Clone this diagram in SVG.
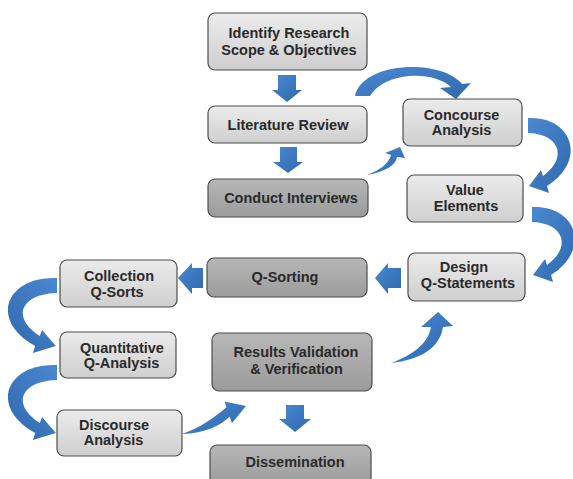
<svg xmlns="http://www.w3.org/2000/svg" width="573" height="479" viewBox="0 0 573 479">
<defs>
<linearGradient id="gLight" x1="0" y1="0" x2="0" y2="1">
<stop offset="0" stop-color="#ebebeb"/>
<stop offset="1" stop-color="#cfcfcf"/>
</linearGradient>
<linearGradient id="gDark" x1="0" y1="0" x2="0" y2="1">
<stop offset="0" stop-color="#b7b7b7"/>
<stop offset="1" stop-color="#9b9b9b"/>
</linearGradient>
<linearGradient id="gBlue" x1="0" y1="0" x2="1" y2="1">
<stop offset="0" stop-color="#4a88d2"/>
<stop offset="1" stop-color="#2f69ad"/>
</linearGradient>
</defs>
<style>
.box{stroke:#4d4d4d;stroke-width:1.2}
.light{fill:url(#gLight)}
.dark{fill:url(#gDark)}
.t{font-family:"Liberation Sans",Arial,sans-serif;font-weight:bold;font-size:14.5px;fill:#2a2a2a;text-anchor:middle}
.arr{fill:url(#gBlue)}
</style>
<rect width="573" height="479" fill="#ffffff"/>
<g id="connectors">
<path id="a-identify-lit" class="arr" d="M278,75 H296 V90 H302 L287,102 L272,90 H278 Z"/>
<path id="a-lit-interviews" class="arr" d="M280,147 H297 V162 H303 L288,173 L273,162 H280 Z"/>
<path id="a-lit-concourse" class="arr" d="M355,96 C362,62 440,58 462,84 L471,83 L456,99 L440,88 L451,87 C432,70 385,72 370,96 Z"/>
<path id="a-interviews-concourse" class="arr" d="M367,175 C385,172 396,165 397,157 L405,158 L400,147 L385,153 L391,155 C389,164 378,171 367,175 Z"/>
<path id="a-concourse-value" class="arr" d="M528,118 C572,116 588,160 547,186 L549,193 L529,186 L541,170 L543,176 C568,158 560,134 528,133 Z"/>
<path id="a-value-design" class="arr" transform="translate(4,89)" d="M528,118 C572,116 588,160 547,186 L549,193 L529,186 L541,170 L543,176 C568,158 560,134 528,133 Z"/>
<path id="a-design-qsorting" class="arr" d="M401,268 V288 H388 V294 L375,278 L388,263 V268 Z"/>
<path id="a-qsorting-collection" class="arr" d="M203,268 V288 H192 V294 L178,278 L192,263 V268 Z"/>
<path id="a-collection-quant" class="arr" transform="translate(57,160) scale(-1.15,1) translate(-528,0)" d="M528,118 C572,116 588,160 547,186 L549,193 L529,186 L541,170 L543,176 C568,158 560,134 528,133 Z"/>
<path id="a-quant-discourse" class="arr" transform="translate(57,247) scale(-1.15,1) translate(-528,0)" d="M528,118 C572,116 588,160 547,186 L549,193 L529,186 L541,170 L543,176 C568,158 560,134 528,133 Z"/>
<path id="a-discourse-results" class="arr" d="M182,434 C205,433 220,426 229.6,416.7 L232,423 L246,406 L224.5,401.5 L226.4,407.3 C214,418 200,428 182,434 Z"/>
<path id="a-results-design" class="arr" d="M391,363 C420,360 440,348 443,327 L453,326 L438,312 L421,327 L431,327 C428,345 410,356 391,363 Z"/>
<path id="a-results-dissemination" class="arr" d="M286,405 H304 V419 H311 L295,432 L279,419 H286 Z"/>
</g>
<g id="n-identify">
<rect class="box light" x="208" y="13" width="159" height="57" rx="7"/>
<text class="t" x="289" y="38">Identify Research</text>
<text class="t" x="289" y="55">Scope &amp; Objectives</text>
</g>
<g id="n-literature">
<rect class="box light" x="208" y="106" width="159" height="37" rx="7"/>
<text class="t" x="288" y="129.5">Literature Review</text>
</g>
<g id="n-concourse">
<rect class="box light" x="403" y="99" width="119" height="47" rx="7"/>
<text class="t" x="461.5" y="120">Concourse</text>
<text class="t" x="461.5" y="135">Analysis</text>
</g>
<g id="n-interviews">
<rect class="box dark" x="208" y="179" width="160" height="38" rx="7"/>
<text class="t" x="291" y="203">Conduct Interviews</text>
</g>
<g id="n-value">
<rect class="box light" x="407" y="175" width="116" height="47" rx="7"/>
<text class="t" x="465" y="195">Value</text>
<text class="t" x="466" y="211">Elements</text>
</g>
<g id="n-design">
<rect class="box light" x="408" y="253" width="117" height="48" rx="7"/>
<text class="t" x="464" y="272">Design</text>
<text class="t" x="468" y="288">Q-Statements</text>
</g>
<g id="n-qsorting">
<rect class="box dark" x="207" y="258" width="160" height="39" rx="7"/>
<text class="t" x="285" y="282">Q-Sorting</text>
</g>
<g id="n-collection">
<rect class="box light" x="60" y="260" width="117" height="47" rx="7"/>
<text class="t" x="119" y="281">Collection</text>
<text class="t" x="117" y="296.5">Q-Sorts</text>
</g>
<g id="n-quantitative">
<rect class="box light" x="60" y="332" width="116" height="46" rx="7"/>
<text class="t" x="122" y="353">Quantitative</text>
<text class="t" x="121.5" y="368">Q-Analysis</text>
</g>
<g id="n-discourse">
<rect class="box light" x="57" y="410" width="125" height="46" rx="7"/>
<text class="t" x="114" y="430">Discourse</text>
<text class="t" x="113.5" y="445">Analysis</text>
</g>
<g id="n-results">
<rect class="box dark" x="212" y="333" width="160" height="58" rx="7"/>
<text class="t" x="296" y="357">Results Validation</text>
<text class="t" x="296.5" y="373.5">&amp; Verification</text>
</g>
<g id="n-dissemination">
<rect class="box dark" x="210" y="445" width="161" height="40" rx="7"/>
<text class="t" x="295" y="467">Dissemination</text>
</g>
</svg>
